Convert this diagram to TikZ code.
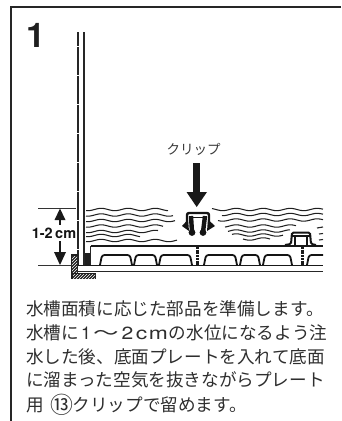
\documentclass[tikz,border=0pt]{standalone}
\usepackage{fontspec}
\setmainfont{TeX Gyre Heros}
\newfontfamily\cjk{Noto Sans CJK JP}
\usetikzlibrary{patterns}
\tikzset{
  frameline/.style={line width=2pt,draw=black!85},
  wave/.style={line width=1.05pt,draw=black!88},
  plate/.style={line width=1.2pt,draw=black!90},
  archline/.style={line width=1.8pt,draw=black!92,rounded corners=2.5pt},
  postline/.style={line width=3pt,draw=black!90,dash pattern=on 2pt off 0.7pt},
  bodytext/.style={font=\cjk\fontsize{17.6}{17.6}\selectfont,text=black!82,anchor=west,inner sep=0pt},
}
\newcommand{\wavy}[3]{% x0,x1,y
  \draw[wave] plot[domain=#1:#2,samples=40,smooth] (\x,{#3+1.2*sin(\x/27*360)});
}
\newcommand{\wch}[2]{\makebox[#1pt][c]{#2}}
\begin{document}
\begin{tikzpicture}[x=1pt,y=-1pt]
\useasboundingbox (0,0) rectangle (341,421);
\coordinate (ftl) at (11,7);
\coordinate (ftr) at (341,7);
\coordinate (fbl) at (11,421);
\draw[frameline] (ftr) -- (ftl) -- (fbl);
\node[font=\rmfamily\bfseries\fontsize{34}{34}\selectfont,text=black!88,inner sep=0pt] (num) at (35.5,35) {1};
% tank wall
\draw[line width=1.3pt,black!85,dash pattern=on 14pt off 0.5pt] (78,32) -- (78,265);
\draw[line width=1.2pt,black!85] (84,32) -- (84,265);
% base
\fill[black!88] (71,254) rectangle (78,279);
\fill[black!88] (71,273) rectangle (96,279);
\fill[pattern=north east lines,pattern color=white] (72,256) rectangle (77,272);
\fill[pattern=north east lines,pattern color=white] (73,274) rectangle (95,278);
% bottom
\draw[plate] (78,265.5) -- (323,265.5);
\draw[line width=1pt,black!85] (78,271) -- (323,271);
\draw[plate] (90.5,246) -- (323,246);
\draw[line width=1.6pt,black!85] (90.5,246) -- (90.5,265);
\fill[black!88] (85,253) rectangle (90,265);
% plate ribs
\foreach \a/\b in {100/132,134/157,159/192,204/237,240/260,263/292}{
  \draw[archline] (\a,265) -- (\a+2,255) -- (\b-2,255) -- (\b,265);
}
\draw[line width=1.8pt,black!92,rounded corners=2.5pt] (307,265) -- (309,255) -- (323,255);
\draw[postline] (197,247) -- (197,265);
\draw[postline] (302,247) -- (302,265);
% waves left
\wavy{86}{168}{209.5}
\wavy{86}{173}{215}
\wavy{86}{175}{220.5}
\wavy{86}{163}{226}
\wavy{86}{158}{231.5}
\wavy{86}{140}{235.5}
\wavy{86}{177}{240.5}
% waves right
\wavy{212}{323}{209.5}
\wavy{222}{323}{214.5}
\wavy{218}{323}{220}
\wavy{225}{296}{226}
\wavy{228}{290}{231}
\wavy{232}{283}{235}
\wavy{243}{270}{239}
\draw[line width=1.1pt,black!85] (317,228) -- (323,227) (319,234) -- (323,233.5) (319,240) -- (323,239.5);
% arrow
\node[font=\cjk\fontsize{13.5}{13.5}\selectfont,text=black!78,inner sep=0pt] (clip) at (193.5,149) {クリップ};
\coordinate (as) at (196.7,163);
\coordinate (ae) at (196.7,207);
\draw[line width=6.5pt,black!90] (as) -- (196.7,194);
\fill[black!90] (186.5,192) -- (207,192) -- (ae) -- cycle;
% clip
\draw[line width=2.4pt,black!92,rounded corners=2pt] (187,226) -- (187,213) -- (209,213) -- (209,226);
\draw[line width=1.8pt,black!92] (190,217.5) -- (206,217.5);
\draw[line width=4.4pt,black!92] (191,216) -- (192,232);
\draw[line width=4.4pt,black!92] (205,216) -- (203,232);
\fill[black!92] (192,232.5) circle (3.4);
\fill[black!92] (203,232.5) circle (3.4);
\fill[black!92] (182,226) -- (188,219.5) -- (189,231) -- cycle;
\fill[black!92] (215,226) -- (208,219.5) -- (207,231) -- cycle;
% right clip
\draw[line width=2pt,black!92,rounded corners=1.5pt] (285,245) -- (291,244) -- (292,232.5) -- (310,232.5) -- (311,244) -- (316,245);
\draw[line width=2.4pt,black!92] (295,236) -- (295,246);
\draw[line width=2.4pt,black!92] (307,236) -- (307,246);
\draw[line width=1.2pt,black!92] (292,236) -- (310,236);
% dimension
\coordinate (d1) at (38,208);
\coordinate (d2) at (76,208);
\coordinate (d3) at (38,265);
\coordinate (d4) at (72,265);
\draw[line width=0.8pt,black!80] (d1) -- (d2);
\draw[line width=0.8pt,black!80] (d3) -- (d4);
\node[font=\rmfamily\bfseries\fontsize{14.5}{14.5}\selectfont,text=black!92,inner sep=0pt] (dim) at (54,233) {1-2\,cm};
\draw[line width=1.5pt,black!90] (60,212) -- (60,225);
\draw[line width=1.5pt,black!90] (60,241) -- (60,258);
\fill[black!90] (54.5,220) -- (65.5,220) -- (60,208.5) -- cycle;
\fill[black!90] (54,252) -- (66,252) -- (60,265) -- cycle;
% text
\node[bodytext] (t1) at (26,309) {水槽面積に応じた部品を準備します。};
\node[bodytext] (t2) at (26,333) {水槽に\wch{14}{\rmfamily 1}\wch{27}{\scalebox{1.45}[1]{～}}\wch{15}{\rmfamily\scalebox{1.2}[1]{2}}\wch{13}{\rmfamily\scalebox{1.3}[1]{c}}\wch{21}{\rmfamily\scalebox{1.3}[1]{m}}の水位になるよう注};
\node[bodytext] (t3) at (26,357) {水した後、底面プレートを入れて底面};
\node[bodytext] (t4) at (26,380) {に溜まった空気を抜きながらプレート};
\node[bodytext] (t5) at (26,404.5) {用\hspace{7pt}\wch{22}{\raisebox{-1.5pt}{\scalebox{1.3}{⑬}}}クリップで留めます。};
\end{tikzpicture}
\end{document}
